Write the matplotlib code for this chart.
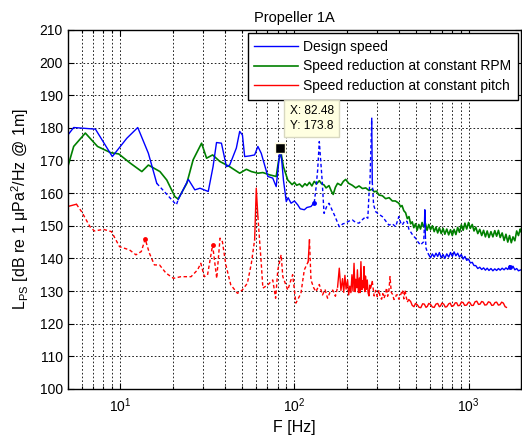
import numpy as np
import matplotlib
matplotlib.use("Agg")
import matplotlib.pyplot as plt
from matplotlib.ticker import LogLocator, FixedLocator

plt.rcParams['font.family'] = ['Liberation Sans', 'DejaVu Sans']
plt.rcParams['mathtext.fontset'] = 'custom'
plt.rcParams['mathtext.rm'] = 'Liberation Sans'
plt.rcParams['mathtext.it'] = 'Liberation Sans:italic'
plt.rcParams['mathtext.bf'] = 'Liberation Sans:bold'

# ---------------- data ----------------
series_names = ["Design speed", "Speed reduction at constant RPM",
                "Speed reduction at constant pitch"]

blue_f = [5.0, 5.4, 7.2, 9.0, 10.9, 12.6, 14.5, 16.2, 21.0, 21.5, 24.6, 26.8, 28.7,
          32.0, 34.1, 35.7, 38.1, 40.7, 42.5, 46.4, 48.5, 50.3, 51.8, 55.3, 59.1,
          61.7, 64.5, 70.4, 75.1, 78.6, 81.0, 82.48, 84.5, 86.5, 89.8, 92.0, 95.7,
          100, 104.5, 108, 114, 118, 124.5, 130,
          133, 136, 139, 141, 144, 148, 153, 158, 164, 170, 181, 190, 197, 205,
          215, 225, 235, 246, 257, 264, 268, 272, 278, 280, 285, 293, 306, 320,
          334, 349, 365, 381, 398, 407, 416, 430, 444, 454, 464, 480, 496, 513,
          530, 545, 553, 558, 561, 565, 570, 580, 591,
          605, 620, 635, 650, 665, 680, 697, 714, 731, 750, 769, 788, 807, 826,
          846, 866, 887, 909, 931, 953, 976, 1000, 1024, 1050, 1075, 1100, 1130,
          1160, 1190, 1220, 1250, 1280, 1310, 1345, 1380, 1415, 1450, 1485, 1520,
          1560, 1600, 1640, 1680, 1720, 1760, 1800, 1845, 1890, 1935, 2000]
blue_db = [177.8, 180.1, 179.6, 171.2, 176.8, 180.1, 172.2, 163.0, 156.4, 158.0,
           164.2, 161.0, 161.5, 160.5, 168.1, 175.5, 175.3, 168.1, 168.6, 173.8,
           178.9, 177.8, 171.2, 171.4, 171.7, 174.3, 172.2, 165.1, 164.6, 162.0,
           168.6, 173.8, 170.2, 164.0, 157.4, 158.6, 156.9,
           157.6, 156.4, 155.2, 154.9, 155.6, 155.9, 157.1,
           161.5, 167.1, 175.8, 171.2, 164.6, 153.8, 155.8, 156.9, 155.0, 153.2,
           149.7, 150.6, 150.8, 151.4, 151.8, 151.0, 150.8, 151.9, 152.8, 152.3,
           159.4, 164.6, 182.9, 163.5, 156.4, 154.3, 153.5, 152.8, 151.5, 150.2,
           150.6, 149.7, 152.8, 151.0, 150.2, 151.5, 151.3, 149.0, 148.2, 147.0,
           146.2, 145.0, 144.1, 144.8, 145.1, 150.0, 154.9, 147.0, 143.1, 142.0,
           141.1,
           140.2, 141.4, 140.4, 141.6, 140.6, 141.8, 140.2, 141.2, 140.0, 141.4,
           140.4, 141.8, 140.6, 142.0, 140.8, 141.6, 140.4, 141.2, 139.8, 140.6,
           139.4, 139.8, 138.6, 138.8, 137.8, 137.8, 136.9, 137.3, 136.6, 137.1,
           136.4, 137.0, 136.3, 136.9, 136.2, 136.8, 136.3, 136.9, 136.4, 137.0,
           136.5, 137.1, 136.6, 137.8, 137.0, 137.6, 136.5, 136.9, 136.2, 136.5]
blue_dashed = [(16.2, 21.5), (130, 276), (280, 556), (566, 591)]
blue_dots_f = [130, 1730]
blue_dots_db = [157.1, 137.4]

green_f = [5.0, 5.4, 6.3, 7.4, 8.8, 9.8, 11.4, 13.3, 14.5, 16.9, 18.5, 20.6, 21.5,
           24.1, 26.2, 29.3, 31.3, 33.9, 37.3, 42.5, 48.5, 53.0, 56.6, 61.7, 65.9,
           72.0, 78.6, 81.3, 83.9, 86.5, 91.6, 93.6, 97, 100, 103, 107, 111, 115,
           118, 122, 126, 130, 134, 139, 143, 148, 152, 158, 163, 167, 172, 177,
           185, 191, 197, 205, 215, 225, 235, 246, 257, 268, 280, 287, 296, 306,
           320, 334, 350, 365, 380, 398,
           407, 415, 425, 435, 445, 455, 465, 475, 485, 496, 507, 518, 530, 541,
           553, 565, 578, 591, 605, 620, 635, 650, 665, 680, 697, 714, 731, 750,
           769, 788, 807, 826, 846, 866, 887, 909, 931, 953, 976, 1000, 1024, 1050,
           1075, 1100, 1130, 1160, 1190, 1220, 1250, 1280, 1310, 1345, 1380, 1415,
           1450, 1485, 1520, 1560, 1600, 1640, 1680, 1720, 1760, 1800, 1845, 1890,
           1935, 1980, 2000]
green_db = [168.1, 174.3, 178.4, 174.3, 172.4, 172.0, 169.2, 166.6, 168.6, 166.6,
            164.0, 158.9, 158.2, 163.0, 170.2, 175.3, 170.7, 171.7, 169.7, 168.1,
            166.1, 167.3, 166.6, 166.1, 166.3, 165.6, 165.1, 170.2, 172.2, 168.1,
            164.0, 163.5, 162.6, 163.3, 162.4, 162.8, 161.9, 162.9, 162.3, 163.3,
            162.2, 163.6, 162.8, 163.8, 162.9, 162.5, 161.6, 162.3, 160.6, 159.6,
            161.8, 163.0, 162.4, 163.6, 164.2, 163.0, 162.4, 161.6, 162.2, 161.4,
            161.6, 160.8, 161.2, 160.4, 160.6, 159.4, 159.2, 158.3, 158.6, 157.6,
            157.6, 156.9,
            155.8, 156.2, 154.6, 154.0, 152.2, 152.8, 150.6, 151.2, 149.4, 150.6,
            148.6, 150.4, 149.0, 151.0, 149.6, 150.8, 148.6, 150.4, 148.8, 150.0,
            148.2, 149.6, 147.8, 149.4, 147.6, 149.2, 147.4, 149.0, 147.2, 148.8,
            147.0, 148.9, 147.3, 149.5, 148.0, 150.3, 148.6, 150.8, 149.0, 151.0,
            149.2, 150.4, 148.4, 149.6, 147.6, 148.9, 147.0, 148.6, 146.6, 148.4,
            146.4, 148.2, 146.6, 148.5, 146.8, 148.6, 146.4, 147.8, 145.5, 147.4,
            145.0, 147.0, 144.8, 146.6, 145.4, 148.4, 147.0, 149.0, 148.2]

red_f = [5.0, 5.6, 6.0, 6.7, 7.1, 8.0, 8.9, 9.9, 11.3, 12.3, 13.2, 13.9, 14.7, 15.7,
         16.8, 18.3, 20.2, 22.3, 25.5, 27.8, 29.0, 30.4, 31.7, 33.9, 35.8, 37.4,
         38.6, 40.4, 43.1, 47.1, 50.2, 53.7, 56.6, 59.1, 60.4, 61.7, 64.5, 65.9,
         70.4, 75.1, 78.0, 80.3, 83.9, 85.8, 91.6, 97.7, 102, 109, 114, 120, 122,
         124.5, 129, 133, 139, 145, 150, 155, 160, 166, 172, 177, 181, 185, 189,
         192, 195, 198, 202, 205, 208, 211, 214, 217, 220, 223, 225, 228, 230,
         233, 236, 238, 241, 244, 246, 249, 251, 254, 256, 259, 262, 265, 268,
         271, 274, 280, 287, 293, 299, 306, 311, 317, 322, 327, 333, 338, 343,
         349, 354, 360, 366, 373, 379, 385, 391, 398, 404, 411, 418, 425, 432,
         440, 447,
         454, 465, 475, 486, 496, 508, 520, 532, 545, 557, 570, 580, 591, 605,
         620, 635, 650, 665, 680, 690, 703, 720, 735, 750, 770, 785, 800, 820,
         839, 855, 870, 890, 910, 930, 950, 975, 1000, 1020, 1040, 1065, 1090,
         1115, 1141, 1165, 1190, 1215, 1240, 1270, 1301, 1330, 1360, 1390, 1420,
         1450, 1483, 1515, 1550, 1585, 1622, 1650]
red_db = [155.9, 156.6, 154.3, 149.7, 148.4, 148.9, 148.2, 143.6, 142.6, 141.1,
          142.1, 145.9, 141.6, 138.0, 138.0, 135.5, 133.9, 134.4, 134.4, 136.5,
          138.5, 134.4, 134.9, 144.1, 133.9, 146.2, 145.1, 138.0, 131.9, 129.3,
          130.3, 132.4, 138.5, 145.7, 161.5, 152.8, 138.5, 130.9, 131.9, 133.4,
          127.8, 136.5, 141.1, 134.4, 130.3, 135.0, 126.3, 129.3, 136.5, 139.0,
          145.7, 133.4, 131.0, 129.8, 132.0, 128.8, 130.4, 127.8, 129.6, 130.3,
          128.4, 131.2, 137.0, 130.2, 133.8, 129.6, 134.8, 130.6, 133.4, 128.8,
          131.5, 129.5, 135.0, 130.0, 138.5, 129.8, 133.6, 131.0, 136.5, 129.5,
          134.0, 129.5, 139.0, 130.4, 133.2, 131.0, 137.5, 129.8, 134.6, 130.5,
          133.4, 129.4, 128.5, 131.8, 130.9, 132.9, 128.5, 130.2, 128.3, 130.3,
          128.0, 127.5, 129.2, 127.8, 129.0, 131.0, 128.4, 130.2, 134.4, 129.6,
          129.0, 127.4, 127.8, 128.8, 128.8, 127.5, 128.3, 129.4, 130.3, 127.6,
          130.3, 127.8, 126.8, 127.4,
          126.8, 125.6, 125.2, 126.2, 125.8, 125.0, 124.9, 126.1, 126.0, 125.0,
          125.3, 126.2, 125.9, 125.1, 125.0, 126.0, 126.2, 125.2, 125.4, 126.3,
          126.0, 125.1, 125.2, 126.1, 126.3, 125.3, 125.5, 126.4, 126.4, 125.5,
          125.6, 126.6, 126.5, 125.6, 125.7, 126.6, 126.4, 125.6, 125.6, 126.7,
          126.9, 125.9, 126.0, 126.8, 126.6, 125.7, 125.8, 126.7, 126.5, 125.6,
          125.7, 126.5, 126.6, 125.7, 125.8, 126.6, 126.3, 125.2, 125.0, 125.5]
red_dashed = [(5.6, 58.5), (62, 83), (84.5, 119), (123, 178), (277, 447)]
red_dots_f = [13.9, 33.9]
red_dots_db = [145.9, 144.1]

tip_f, tip_db = 82.48, 173.8

# ---------------- plot ----------------
fig = plt.figure(figsize=(5.22, 4.40), dpi=100)
ax = fig.add_axes([0.130, 0.116, 0.868, 0.816])
ax.set_xscale('log')


def plot_styled(f, db, dashed_ranges, color, lw_solid=1.0, label=None):
    f = np.asarray(f, float)
    db = np.asarray(db, float)
    mids = np.sqrt(f[:-1] * f[1:])
    is_d = np.zeros(len(mids), bool)
    for a, b in dashed_ranges:
        is_d |= (mids >= a) & (mids <= b)
    start = 0
    first = True
    for i in range(1, len(mids) + 1):
        if i == len(mids) or is_d[i] != is_d[start]:
            seg = slice(start, i + 1)
            if is_d[start]:
                ax.plot(f[seg], db[seg], color=color, lw=1.0,
                        linestyle=(0, (2.5, 1.8)))
            else:
                ax.plot(f[seg], db[seg], color=color, lw=lw_solid,
                        label=label if first else None)
                first = False
            start = i


blue = (0, 0, 1)
green = (0, 0.5, 0)
red = (1, 0, 0)

plot_styled(green_f, green_db, [], green, lw_solid=1.2, label=series_names[1])
plot_styled(blue_f, blue_db, blue_dashed, blue, lw_solid=1.0, label=series_names[0])
plot_styled(red_f, red_db, red_dashed, red, lw_solid=1.0, label=series_names[2])
ax.plot(blue_dots_f, blue_dots_db, 'o', color=blue, ms=3.5, mew=0)
ax.plot(red_dots_f, red_dots_db, 'o', color=red, ms=3.5, mew=0)

ax.set_xlim(5, 2000)
ax.set_ylim(100, 210)
ax.yaxis.set_major_locator(FixedLocator(np.arange(100, 211, 10)))
ax.xaxis.set_major_locator(LogLocator(base=10, numticks=10))
ax.xaxis.set_minor_locator(LogLocator(base=10, subs=np.arange(2, 10), numticks=20))

ax.grid(True, which='major', color='black', linestyle=(0, (2, 2.5)), lw=0.6)
ax.grid(True, which='minor', axis='x', color='black', linestyle=(0, (2, 2.5)), lw=0.6)
ax.set_axisbelow(True)

ax.tick_params(which='both', direction='in', top=True, right=True, labelsize=10,
               width=0.8, colors='black')
ax.tick_params(which='major', length=4)
ax.tick_params(which='minor', length=2.5)
ax.tick_params(axis='x', pad=5)
for s in ax.spines.values():
    s.set_linewidth(1.0)
    s.set_color('black')

ax.set_title("Propeller 1A", fontsize=10.5, pad=6)
ax.set_xlabel("F [Hz]", fontsize=11.5, labelpad=4)
ax.set_ylabel(r"$\mathregular{L_{PS}}$ [dB re 1 $\mathregular{\mu}$Pa$\mathregular{^2}$/Hz @ 1m]",
              fontsize=11.5, labelpad=6)

h, l = ax.get_legend_handles_labels()
order = [l.index(n) for n in series_names]
leg = ax.legend([h[i] for i in order], [l[i] for i in order], loc='upper right',
                fontsize=10, frameon=True, fancybox=False, framealpha=1,
                edgecolor='black', handlelength=3.1, handletextpad=0.4,
                borderaxespad=0.2, borderpad=0.5, labelspacing=0.42)
leg.get_frame().set_linewidth(1.0)

# data tip
ax.plot([tip_f], [tip_db], 's', color='black', ms=7, mec='#fffbe0', mew=1.0, zorder=6)
ax.annotate(f"X: {tip_f}\nY: {tip_db}", xy=(tip_f, tip_db), xytext=(10, 16),
            textcoords='offset pixels', fontsize=8.6, ha='left', va='bottom',
            linespacing=1.3, zorder=7,
            bbox=dict(boxstyle='square,pad=0.45', fc='#ffffe1', ec='#d8d8c0', lw=1.0))

fig.savefig("out.png", dpi=100)
